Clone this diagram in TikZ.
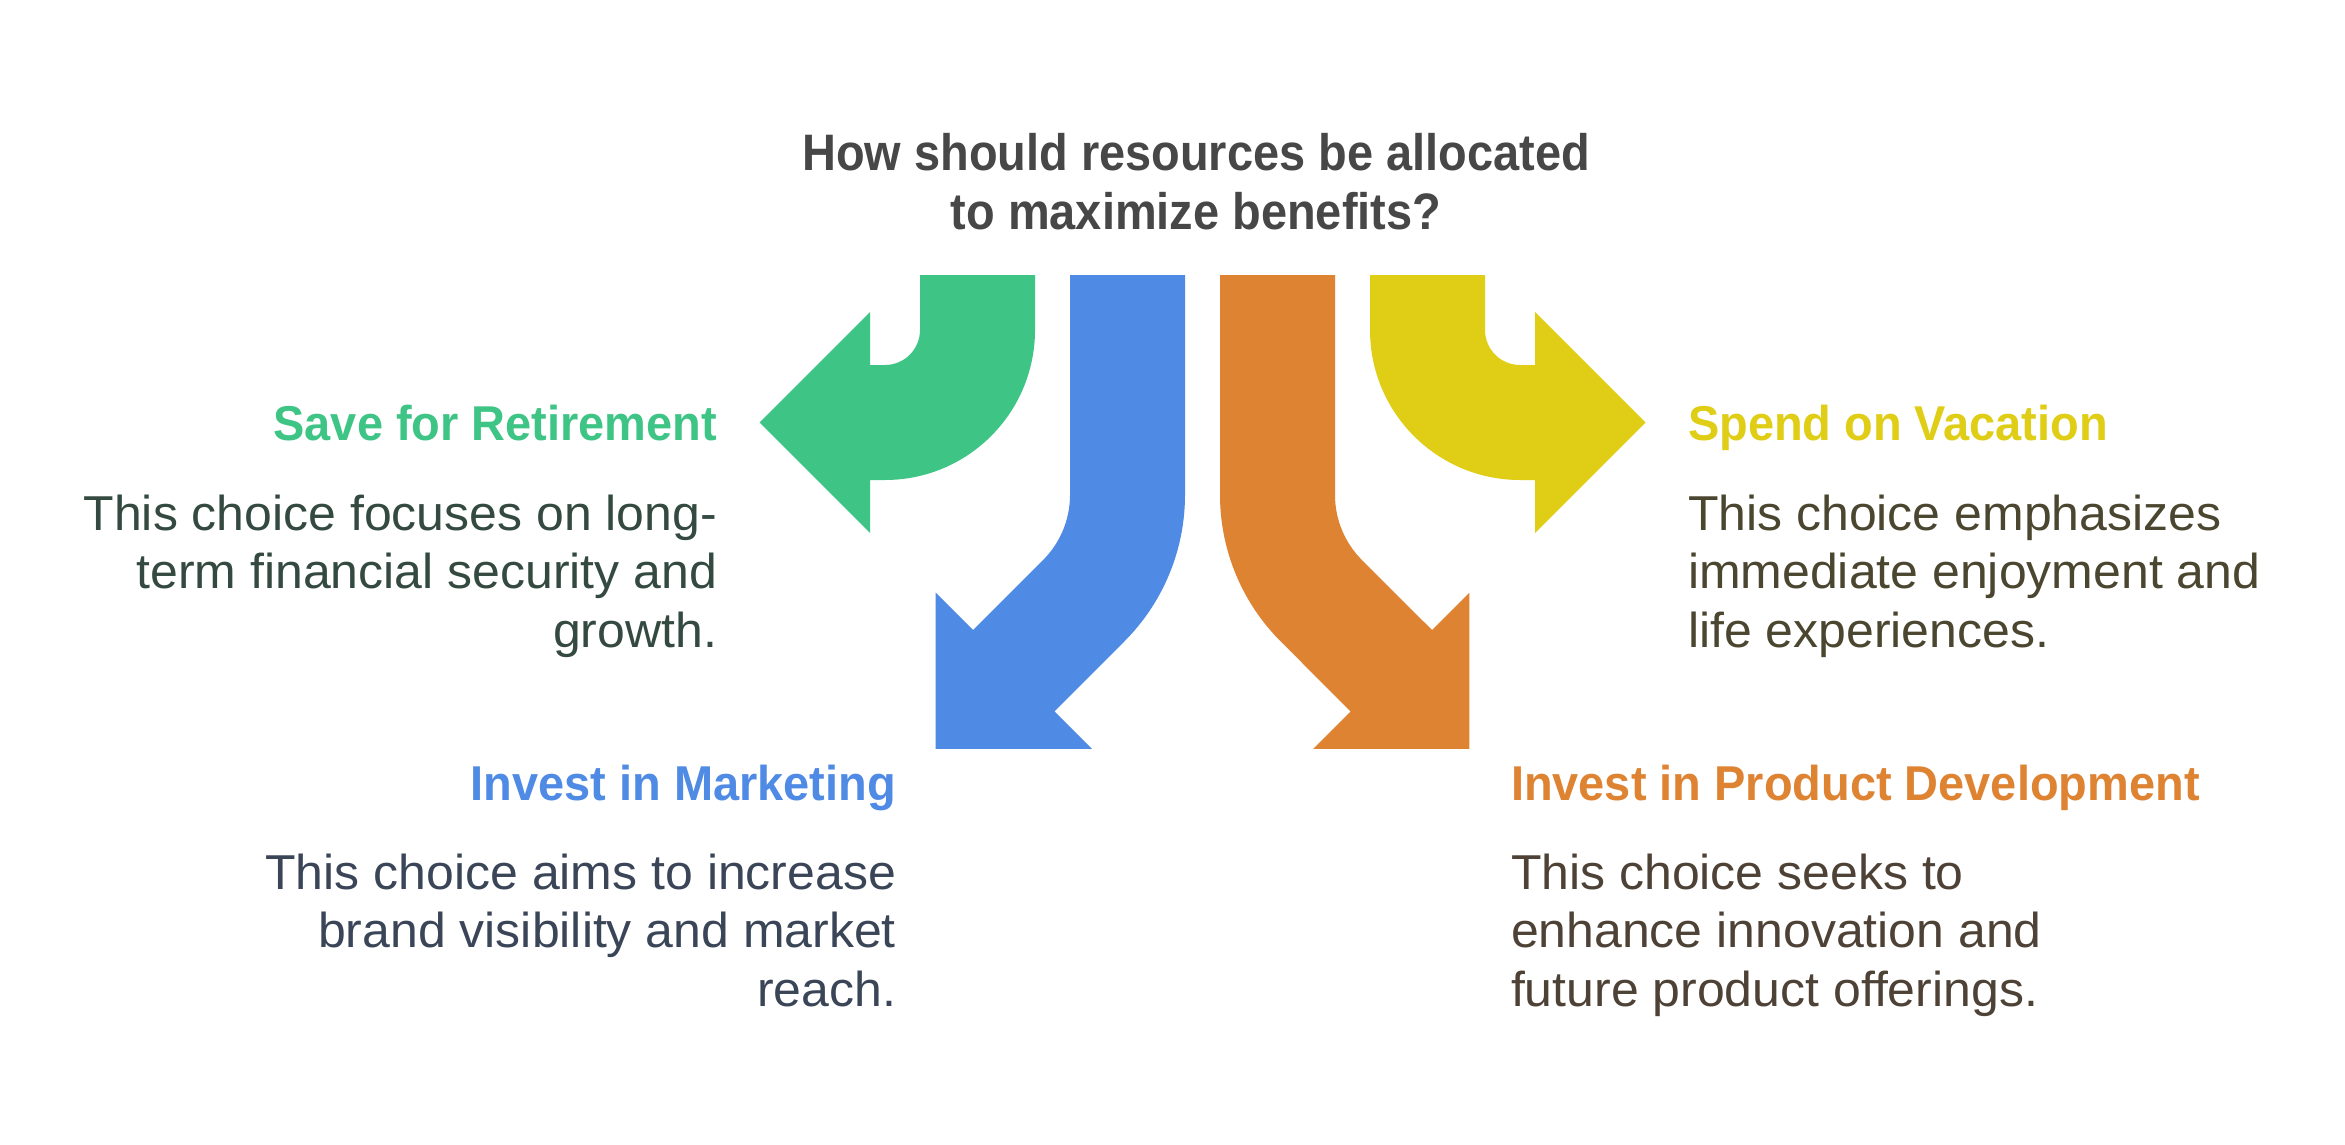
\documentclass[tikz,border=0pt]{standalone}
\usepackage{fontspec}
\setmainfont{Liberation Sans}
\newfontfamily\titlefont[FakeStretch=0.915]{Liberation Sans}
\newfontfamily\headfont[FakeStretch=0.96]{Liberation Sans}
\newfontfamily\bodyfont[FakeStretch=1.02]{Liberation Sans}
\definecolor{cgreen}{HTML}{3EC586}
\definecolor{cblue}{HTML}{4F8AE5}
\definecolor{corange}{HTML}{DE8332}
\definecolor{cyellow}{HTML}{E0CD16}
\definecolor{tgreen}{HTML}{344A40}
\definecolor{tyellow}{HTML}{4A4630}
\definecolor{tblue}{HTML}{3A4558}
\definecolor{torange}{HTML}{4E4236}
\definecolor{ttitle}{HTML}{474747}
\newcommand{\firststrut}{\rule{0pt}{50pt}}
\begin{document}
\begin{tikzpicture}[x=1pt,y=1pt,yscale=-1,
  txt/.style={inner sep=0pt, outer sep=0pt},
  titletext/.style={txt, align=center, text=ttitle,
    font=\titlefont\bfseries\fontsize{51.3}{59}\selectfont},
  headtext/.style={txt, font=\headfont\bfseries\fontsize{48.9}{58.7}\selectfont},
  bodytext/.style={txt, font=\bodyfont\fontsize{49}{58.7}\selectfont}]
\useasboundingbox (0,0) rectangle (2345,1145);
\fill[white] (0,0) rectangle (2345,1145);

% green arrow (Save for Retirement)
\fill[cgreen] (920,275) -- (1035,275) -- (1035,330)
  arc[start angle=0, end angle=90, radius=150]
  -- (870,480) -- (870,533) -- (759.5,422.5) -- (870,312) -- (870,365) -- (885,365)
  arc[start angle=90, end angle=0, radius=35] -- cycle;

% yellow arrow (Spend on Vacation)
\fill[cyellow] (1485,275) -- (1370,275) -- (1370,330)
  arc[start angle=180, end angle=90, radius=150]
  -- (1535,480) -- (1535,533) -- (1645.5,422.5) -- (1535,312) -- (1535,365) -- (1520,365)
  arc[start angle=90, end angle=180, radius=35] -- cycle;

% blue arrow (Invest in Marketing)
\fill[cblue] (1070,275) -- (1185,275) -- (1185,495)
  arc[start angle=0, end angle=45, radius=207]
  -- (1054.4,711.4) -- (1091.8,748.8) -- (935.6,748.8) -- (935.6,592.6) -- (973.0,630.0)
  -- (1043.05,560.05)
  arc[start angle=45, end angle=0, radius=92] -- cycle;

% orange arrow (Invest in Product Development)
\fill[corange] (1335,275) -- (1220,275) -- (1220,495)
  arc[start angle=180, end angle=135, radius=207]
  -- (1350.6,711.4) -- (1313.2,748.8) -- (1469.4,748.8) -- (1469.4,592.6) -- (1432.0,630.0)
  -- (1361.95,560.05)
  arc[start angle=135, end angle=180, radius=92] -- cycle;

% title
\node[titletext, anchor=north] (title) at (1196,120)
  {\firststrut How should resources be allocated\\to maximize benefits?};

% green texts
\node[headtext, text=cgreen, anchor=base east] (gh) at (717,440) {Save for Retirement};
\node[bodytext, text=tgreen, align=right, anchor=north east] (gb) at (717,480)
  {\firststrut This choice focuses on long-\\term financial security and\\growth.};

% yellow texts
\node[headtext, text=cyellow, anchor=base west] (yh) at (1688,440) {Spend on Vacation};
\node[bodytext, text=tyellow, align=left, anchor=north west] (yb) at (1688,480)
  {\firststrut This choice emphasizes\\immediate enjoyment and\\life experiences.};

% blue texts
\node[headtext, text=cblue, anchor=base east] (bh) at (896,800) {Invest in Marketing};
\node[bodytext, text=tblue, align=right, anchor=north east] (bb) at (896,839)
  {\firststrut This choice aims to increase\\brand visibility and market\\reach.};

% orange texts
\node[headtext, text=corange, anchor=base west] (oh) at (1511,800) {Invest in Product Development};
\node[bodytext, text=torange, align=left, anchor=north west] (ob) at (1511,839)
  {\firststrut This choice seeks to\\enhance innovation and\\future product offerings.};
\end{tikzpicture}
\end{document}
